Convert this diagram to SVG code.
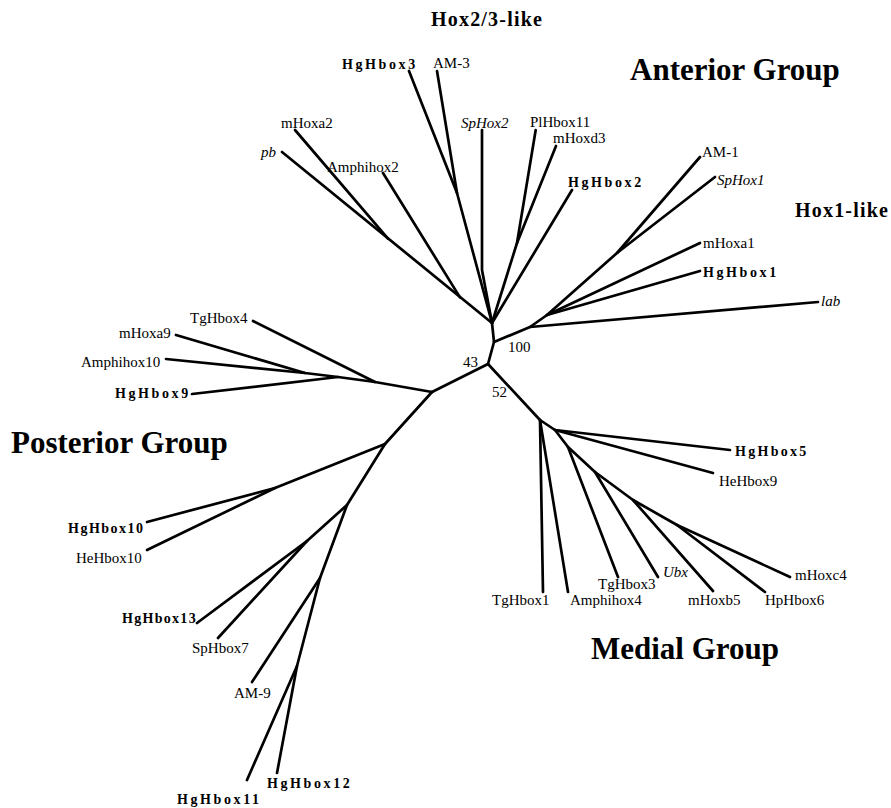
<svg xmlns="http://www.w3.org/2000/svg" width="891" height="808" viewBox="0 0 891 808">
<style>
text{font-family:"Liberation Serif","Times New Roman",serif;fill:#000}
.t{font-size:15px}
.i{font-size:15px;font-style:italic}
.b{font-size:14px;font-weight:bold;letter-spacing:2.6px}
.g{font-size:31px;font-weight:bold}
.s{font-size:20px;font-weight:bold;letter-spacing:1.2px}
.n{font-size:15px}
#connectors path{fill:none;stroke:#000;stroke-width:2.7;stroke-linejoin:round;stroke-linecap:round}
</style>
<rect width="891" height="808" fill="#fff"/>
<g id="connectors">
<path d="M488,364 L494,342 L492,323"/>
<path d="M492,323 L282,152"/>
<path d="M388,238.6 L295,130"/>
<path d="M460,297.4 L383,173"/>
<path d="M492,323 L457,193 L409,71"/>
<path d="M457,193 L437,71"/>
<path d="M492,323 L482,270 L482,130"/>
<path d="M492,323 L517,243 L535.7,130"/>
<path d="M517,243 L556,146"/>
<path d="M492,323 L572,190"/>
<path d="M494,342 L530,327 L547,315 L617,253 L700,157"/>
<path d="M617,253 L715,177"/>
<path d="M530,327 L818,302"/>
<path d="M547,315 L700,243"/>
<path d="M547,315 L700,271"/>
<path d="M488,364 L432,392"/>
<path d="M432,392 L375,382 L338,377 L305,373 L176,335"/>
<path d="M305,373 L166,359"/>
<path d="M338,377 L192,394"/>
<path d="M375,382 L253,321"/>
<path d="M432,392 L385,444 L275,488 L147,522"/>
<path d="M275,488 L147,550"/>
<path d="M385,444 L347,505 L307,541 L197,623"/>
<path d="M307,541 L218,638"/>
<path d="M347,505 L320,578 L252,682"/>
<path d="M320,578 L297,666 L247,780"/>
<path d="M297,666 L277,773"/>
<path d="M488,364 L540,420 L543,592"/>
<path d="M540,420 L568,592"/>
<path d="M540,420 L555,430 L730,450"/>
<path d="M555,430 L713,473"/>
<path d="M555,430 L568,447 L618,577"/>
<path d="M568,447 L595,472 L658,577"/>
<path d="M595,472 L633,500 L713,591"/>
<path d="M633,500 L677,525 L765,592"/>
<path d="M677,525 L790,577"/>
</g>
<g id="group-labels">
<text id="lbl-hox23" class="s" x="431" y="26">Hox2/3-like</text>
<text id="lbl-anterior" class="g" x="630" y="80">Anterior Group</text>
<text id="lbl-hox1" class="s" x="795" y="217">Hox1-like</text>
<text id="lbl-posterior" class="g" x="11" y="453">Posterior Group</text>
<text id="lbl-medial" class="g" x="591" y="659">Medial Group</text>
</g>
<g id="bootstrap">
<text id="bs-100" class="n" x="508" y="352">100</text>
<text id="bs-43" class="n" x="463" y="367">43</text>
<text id="bs-52" class="n" x="492" y="397">52</text>
</g>
<g id="n-HgHbox3"><text class="b" x="342" y="69">HgHbox3</text></g>
<g id="n-AM-3"><text class="t" x="433" y="68">AM-3</text></g>
<g id="n-mHoxa2"><text class="t" x="281" y="128">mHoxa2</text></g>
<g id="n-pb"><text class="i" x="261" y="157">pb</text></g>
<g id="n-Amphihox2"><text class="t" x="327" y="172">Amphihox2</text></g>
<g id="n-SpHox2"><text class="i" x="461" y="128">SpHox2</text></g>
<g id="n-PlHbox11"><text class="t" x="530" y="127">PlHbox11</text></g>
<g id="n-mHoxd3"><text class="t" x="553" y="143">mHoxd3</text></g>
<g id="n-HgHbox2"><text class="b" x="568" y="187">HgHbox2</text></g>
<g id="n-AM-1"><text class="t" x="702" y="157">AM-1</text></g>
<g id="n-SpHox1"><text class="i" x="717" y="185">SpHox1</text></g>
<g id="n-mHoxa1"><text class="t" x="703" y="248">mHoxa1</text></g>
<g id="n-HgHbox1"><text class="b" x="703" y="277">HgHbox1</text></g>
<g id="n-lab"><text class="i" x="821" y="306">lab</text></g>
<g id="n-TgHbox4"><text class="t" x="190" y="323">TgHbox4</text></g>
<g id="n-mHoxa9"><text class="t" x="119" y="338">mHoxa9</text></g>
<g id="n-Amphihox10"><text class="t" x="81" y="367">Amphihox10</text></g>
<g id="n-HgHbox9"><text class="b" x="115" y="398">HgHbox9</text></g>
<g id="n-HgHbox5"><text class="b" x="735" y="456" style="letter-spacing:2.3px">HgHbox5</text></g>
<g id="n-HeHbox9"><text class="t" x="719" y="486">HeHbox9</text></g>
<g id="n-HgHbox10"><text class="b" x="68" y="533" style="letter-spacing:1.5px">HgHbox10</text></g>
<g id="n-HeHbox10"><text class="t" x="76" y="563">HeHbox10</text></g>
<g id="n-TgHbox1"><text class="t" x="492" y="605">TgHbox1</text></g>
<g id="n-Amphihox4"><text class="t" x="570" y="605">Amphihox4</text></g>
<g id="n-TgHbox3"><text class="t" x="598" y="589">TgHbox3</text></g>
<g id="n-Ubx"><text class="i" x="663" y="577">Ubx</text></g>
<g id="n-mHoxb5"><text class="t" x="688" y="605">mHoxb5</text></g>
<g id="n-HpHbox6"><text class="t" x="765" y="605">HpHbox6</text></g>
<g id="n-mHoxc4"><text class="t" x="795" y="580">mHoxc4</text></g>
<g id="n-HgHbox13"><text class="b" x="122" y="623" style="letter-spacing:1.3px">HgHbox13</text></g>
<g id="n-SpHbox7"><text class="t" x="192" y="653">SpHbox7</text></g>
<g id="n-AM-9"><text class="t" x="234" y="698">AM-9</text></g>
<g id="n-HgHbox12"><text class="b" x="267" y="788">HgHbox12</text></g>
<g id="n-HgHbox11"><text class="b" x="177" y="804">HgHbox11</text></g>
</svg>
